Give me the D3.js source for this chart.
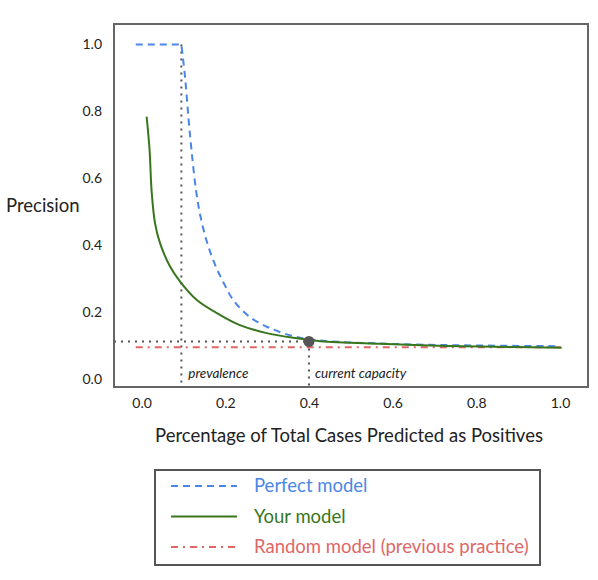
<!DOCTYPE html>
<html>
<head>
<meta charset="utf-8">
<script src="https://d3js.org/d3.v7.min.js"></script>
<style>
  body { margin: 0; background: #fff; }
  text { font-family: Lato, "Open Sans", sans-serif; fill: #222; }
</style>
</head>
<body>
<div id="chart"></div>
<script>
"use strict"

// values
var prevalence = 0.095;
var capacity = 0.4;
var capacityPrecision = 0.112;

var perfectX = [-0.014, 0.095, 0.104, 0.112, 0.12, 0.13, 0.14, 0.156, 0.176, 0.195, 0.219, 0.259, 0.307, 0.362, 0.41, 0.47, 0.57, 0.69, 0.81, 0.99];
var perfectY = [1.0, 1.0, 0.9, 0.78, 0.675, 0.565, 0.49, 0.41, 0.34, 0.29, 0.236, 0.185, 0.152, 0.128, 0.117, 0.111, 0.106, 0.102, 0.100, 0.098];

var yourX = [0.012, 0.019, 0.024, 0.032, 0.044, 0.068, 0.092, 0.132, 0.188, 0.235, 0.299, 0.362, 0.427, 0.57, 0.69, 0.809, 1.004];
var yourY = [0.784, 0.685, 0.56, 0.466, 0.406, 0.336, 0.291, 0.236, 0.191, 0.161, 0.137, 0.123, 0.113, 0.105, 0.100, 0.097, 0.093];

var randomX = [-0.014, 1.005];
var randomY = [0.095, 0.095];

var ticks = [0.0, 0.2, 0.4, 0.6, 0.8, 1.0];

var legendLabels = ["Perfect model", "Your model", "Random model (previous practice)"];
var colores = ["#4a86e8", "#38761d", "#e06666"];
var dashes = ["7,5", null, "7,5,2,5"];

var larguraSVG = 598, alturaSVG = 580;
var caixa = {left: 114, right: 588, top: 24, bottom: 387};

var svg = d3.select("#chart").append("svg")
  .attr("width", larguraSVG)
  .attr("height", alturaSVG);

var x = d3.scaleLinear().domain([-0.066, 1.067]).range([caixa.left, caixa.right]);
var y = d3.scaleLinear().domain([-0.024, 1.061]).range([caixa.bottom, caixa.top]);

var linha = d3.line().x(d => x(d[0])).y(d => y(d[1]));
var curva = d3.line().x(d => x(d[0])).y(d => y(d[1])).curve(d3.curveCatmullRom.alpha(0.5));

// frame
svg.append("rect")
  .attr("x", caixa.left).attr("y", caixa.top)
  .attr("width", caixa.right - caixa.left)
  .attr("height", caixa.bottom - caixa.top)
  .attr("fill", "none").attr("stroke", "#666").attr("stroke-width", 2);

// tick labels
var eixoX = d3.axisBottom(x).tickValues(ticks).tickFormat(d3.format(".1f")).tickSize(0).tickPadding(0);
var gx = svg.append("g").attr("transform", "translate(0,396)").call(eixoX);
gx.select(".domain").remove();
gx.selectAll("text").attr("font-size", 14).attr("dy", "0.85em");

var eixoY = d3.axisLeft(y).tickValues(ticks).tickFormat(d3.format(".1f")).tickSize(0).tickPadding(0);
var gy = svg.append("g").attr("transform", "translate(102,0)").call(eixoY);
gy.select(".domain").remove();
gy.selectAll("text").attr("font-size", 14);

svg.selectAll(".tick text").style("font-family", "Lato, sans-serif").style("fill", "#222");

// axis titles
svg.append("text").attr("x", 6).attr("y", 212)
  .attr("font-size", 18.5).text("Precision");
svg.append("text").attr("x", 349).attr("y", 442)
  .attr("text-anchor", "middle").attr("font-size", 18.5)
  .text("Percentage of Total Cases Predicted as Positives");

// reference dotted lines
function guia(pts) {
  svg.append("path").attr("d", linha(pts))
    .attr("fill", "none").attr("stroke", "#555")
    .attr("stroke-width", 2).attr("stroke-dasharray", "2,5");
}
guia([[prevalence, 1.0], [prevalence, y.invert(caixa.bottom + 1)]]);
guia([[x.invert(caixa.left), capacityPrecision], [capacity, capacityPrecision]]);
guia([[capacity, capacityPrecision], [capacity, y.invert(caixa.bottom + 1)]]);

// series: random, perfect, yours
var perfect = d3.zip(perfectX, perfectY);
var caminhos = [
  {d: linha(d3.zip(randomX, randomY)), k: 2},
  {d: linha(perfect.slice(0, 2)) + curva(perfect.slice(1)).replace(/^M[^C]*/, ""), k: 0},
  {d: curva(d3.zip(yourX, yourY)), k: 1}
];

caminhos.forEach(function(c) {
  svg.append("path")
    .attr("d", c.d)
    .attr("fill", "none")
    .attr("stroke", colores[c.k])
    .attr("stroke-width", 2)
    .attr("stroke-dasharray", dashes[c.k]);
});

svg.append("circle")
  .attr("cx", x(capacity)).attr("cy", y(capacityPrecision))
  .attr("r", 5.5).attr("fill", "#555");

// annotations
svg.append("text").attr("x", x(prevalence) + 7).attr("y", 378)
  .attr("font-size", 13.5).attr("font-style", "italic").text("prevalence");
svg.append("text").attr("x", x(capacity) + 6).attr("y", 378)
  .attr("font-size", 13.5).attr("font-style", "italic").text("current capacity");

// legend
var leg = svg.append("g");
leg.append("rect").attr("x", 155).attr("y", 470).attr("width", 385).attr("height", 95)
  .attr("fill", "#fff").attr("stroke", "#555").attr("stroke-width", 2);
legendLabels.forEach(function(t, i) {
  var yy = 486 + i * 30.5;
  leg.append("line").attr("x1", 171).attr("x2", 237).attr("y1", yy).attr("y2", yy)
    .attr("stroke", colores[i]).attr("stroke-width", 2).attr("stroke-dasharray", dashes[i]);
  leg.append("text").attr("x", 254).attr("y", yy).attr("dy", "0.35em")
    .attr("font-size", 18.5).style("fill", colores[i]).text(t);
});
</script>
</body>
</html>
